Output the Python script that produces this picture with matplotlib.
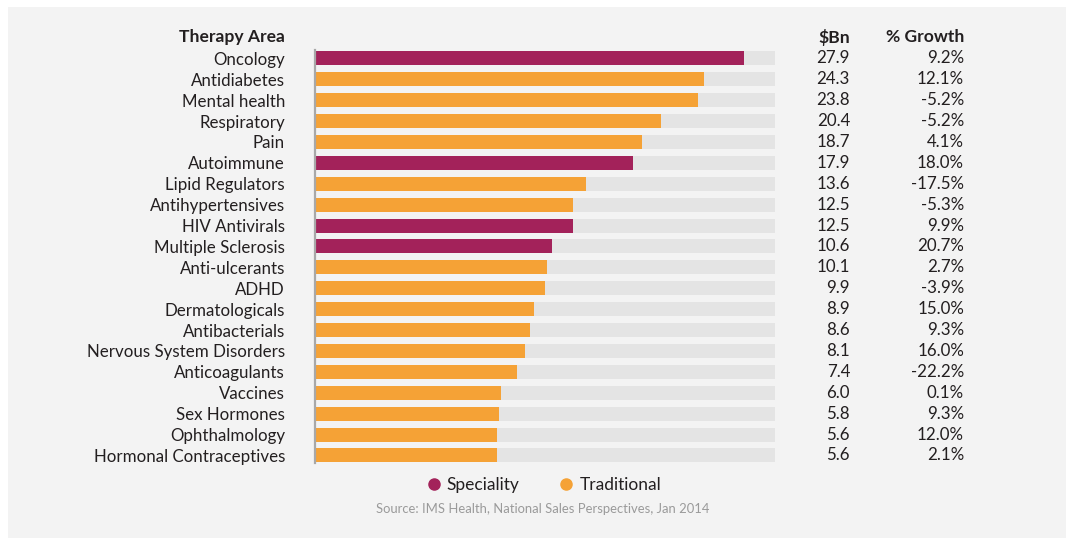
import matplotlib
matplotlib.use("Agg")
import matplotlib.pyplot as plt
from matplotlib.transforms import blended_transform_factory
from matplotlib.lines import Line2D
from matplotlib.patches import Rectangle

categories = ["Oncology", "Antidiabetes", "Mental health", "Respiratory", "Pain",
              "Autoimmune", "Lipid Regulators", "Antihypertensives", "HIV Antivirals",
              "Multiple Sclerosis", "Anti-ulcerants", "ADHD", "Dermatologicals",
              "Antibacterials", "Nervous System Disorders", "Anticoagulants", "Vaccines",
              "Sex Hormones", "Ophthalmology", "Hormonal Contraceptives"]
sales_bn = [27.9, 24.3, 23.8, 20.4, 18.7, 17.9, 13.6, 12.5, 12.5, 10.6,
            10.1, 9.9, 8.9, 8.6, 8.1, 7.4, 6.0, 5.8, 5.6, 5.6]
growth_labels = ["9.2%", "12.1%", "-5.2%", "-5.2%", "4.1%", "18.0%", "-17.5%", "-5.3%",
                 "9.9%", "20.7%", "2.7%", "-3.9%", "15.0%", "9.3%", "16.0%", "-22.2%",
                 "0.1%", "9.3%", "12.0%", "2.1%"]
segment = ["Speciality", "Traditional", "Traditional", "Traditional", "Traditional",
           "Speciality", "Traditional", "Traditional", "Speciality", "Speciality",
           "Traditional", "Traditional", "Traditional", "Traditional", "Traditional",
           "Traditional", "Traditional", "Traditional", "Traditional", "Traditional"]

colors = {"Speciality": "#A3225A", "Traditional": "#F5A236"}
TRACK = "#E4E4E4"
PANEL = "#F3F3F3"
TXT = "#231F20"
FONT = ["Lato", "DejaVu Sans"]

plt.rcParams["font.family"] = FONT

W, H = 1066, 538
fig = plt.figure(figsize=(W / 100, H / 100), dpi=100)
fig.patch.set_facecolor("white")
fig.patches.append(Rectangle((8 / W, 0), 1 - 8 / W, 1 - 7 / H, transform=fig.transFigure,
                             facecolor=PANEL, edgecolor="none", zorder=-10))

x_lo, x_hi = -10.84, 30.71
ax = fig.add_axes([315 / W, 1 - 465.9 / H, (775 - 315) / W, (465.9 - 47.85) / H])
ax.set_facecolor("none")
n = len(categories)
ys = list(range(n))
bh = 0.67
ax.barh(ys, [x_hi - x_lo] * n, left=x_lo, height=bh, color=TRACK, zorder=1)
ax.barh(ys, [v - x_lo for v in sales_bn], left=x_lo, height=bh,
        color=[colors[s] for s in segment], zorder=2)
ax.set_xlim(x_lo, x_hi)
ax.set_ylim(n - 0.5, -0.5)
for sp in ["top", "right", "bottom"]:
    ax.spines[sp].set_visible(False)
ax.spines["left"].set_color("#A8A8A8")
ax.spines["left"].set_linewidth(1.6)
ax.spines["left"].set_bounds(-0.4, n - 1 + 0.37)
ax.set_xticks([])
ax.set_yticks(ys)
ax.set_yticklabels(categories, fontsize=12.2, color=TXT)
ax.tick_params(axis="y", length=0, pad=21.6)

tr = blended_transform_factory(fig.transFigure, ax.transData)
ax.text(285 / W, -1, "Therapy Area", transform=tr, ha="right", va="center",
        fontsize=12.6, fontweight="bold", color=TXT)
ax.text(850 / W, -1, "$Bn", transform=tr, ha="right", va="center",
        fontsize=12.6, fontweight="bold", color=TXT)
ax.text(964 / W, -1, "% Growth", transform=tr, ha="right", va="center",
        fontsize=12.6, fontweight="bold", color=TXT)
for i, (v, g) in enumerate(zip(sales_bn, growth_labels)):
    ax.text(850 / W, i, f"{v:.1f}", transform=tr, ha="right", va="center",
            fontsize=12.2, color=TXT)
    ax.text(964 / W, i, g, transform=tr, ha="right", va="center",
            fontsize=12.2, color=TXT)

handles = [Line2D([], [], marker="o", linestyle="none", markersize=8,
                  markerfacecolor=colors[k], markeredgecolor=colors[k]) for k in colors]
fig.legend(handles, list(colors.keys()), loc="center", ncol=2, frameon=False,
           bbox_to_anchor=(543 / W, 1 - 485 / H), fontsize=12.5, handlelength=1.0,
           handletextpad=0.25, columnspacing=2.2, labelcolor=TXT)

fig.text(543 / W, 1 - 509 / H, "Source: IMS Health, National Sales Perspectives, Jan 2014",
         ha="center", va="center", fontsize=9.4, color="#9A9A9A")

fig.savefig("out.png", dpi=100)
